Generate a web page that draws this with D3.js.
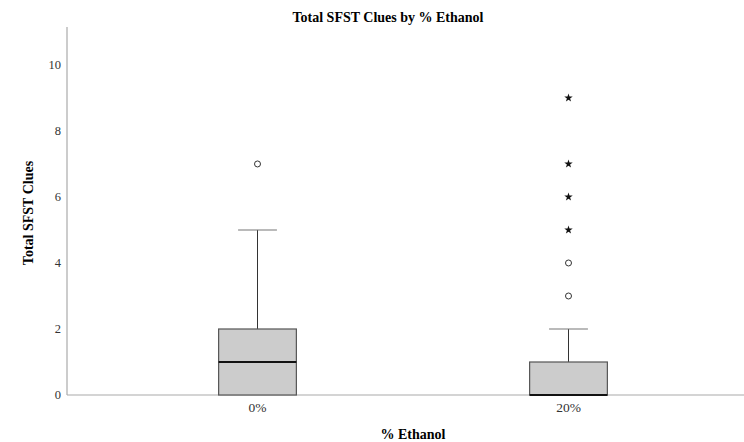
<!DOCTYPE html>
<html><head><meta charset="utf-8">
<script src="https://cdn.jsdelivr.net/npm/d3@7"></script>
<style>body{margin:0;background:#fff}svg{display:block}</style>
</head><body>
<svg id="c" width="744" height="442"></svg>
<script>
const categories = ["0%", "20%"];
const q1 = [0, 0];
const medians = [1, 0];
const q3 = [2, 1];
const whiskerLow = [0, 0];
const whiskerHigh = [5, 2];
const outliersCircle = [[7], [3, 4]];
const outliersStar = [[], [5, 6, 7, 9]];
const yTicks = [0, 2, 4, 6, 8, 10];
const title = "Total SFST Clues by % Ethanol";
const xTitle = "% Ethanol";
const yTitle = "Total SFST Clues";

const svg = d3.select("#c");
const font = "'Liberation Serif','Times New Roman',serif";
const x = d3.scaleBand().domain(categories).range([102, 724]).padding(0);
const y = d3.scaleLinear().domain([0, 11.15]).range([395, 27]);
const bw = x.bandwidth() * 0.25;
const capW = x.bandwidth() * 0.125;

// axes lines
svg.append("line").attr("x1", 67).attr("x2", 67).attr("y1", y(11.15)).attr("y2", y(0))
  .attr("stroke", "#aaa").attr("stroke-width", 1.2);
svg.append("line").attr("x1", 67).attr("x2", 744).attr("y1", y(0)).attr("y2", y(0))
  .attr("stroke", "#aaa").attr("stroke-width", 1.2);

// y tick labels
svg.append("g").selectAll("text").data(yTicks).join("text")
  .attr("x", 61).attr("y", d => y(d)).attr("dy", "0.35em")
  .attr("text-anchor", "end").attr("font-family", font).attr("font-size", 12.5)
  .attr("fill", "#333").text(d => d);

// x tick labels
svg.append("g").selectAll("text").data(categories).join("text")
  .attr("x", d => x(d) + x.bandwidth() / 2).attr("y", 412)
  .attr("text-anchor", "middle").attr("font-family", font).attr("font-size", 13.5)
  .attr("fill", "#333").text(d => d);

const g = svg.append("g");
categories.forEach((c, i) => {
  const cx = x(c) + x.bandwidth() / 2;
  g.append("line").attr("x1", cx).attr("x2", cx).attr("y1", y(q3[i])).attr("y2", y(whiskerHigh[i]))
    .attr("stroke", "#333").attr("stroke-width", 1);
  g.append("line").attr("x1", cx - capW / 2).attr("x2", cx + capW / 2)
    .attr("y1", y(whiskerHigh[i])).attr("y2", y(whiskerHigh[i]))
    .attr("stroke", "#777").attr("stroke-width", 1.2);
  if (whiskerLow[i] < q1[i]) {
    g.append("line").attr("x1", cx).attr("x2", cx).attr("y1", y(q1[i])).attr("y2", y(whiskerLow[i]))
      .attr("stroke", "#333");
  }
  g.append("rect").attr("x", cx - bw / 2).attr("width", bw)
    .attr("y", y(q3[i])).attr("height", y(q1[i]) - y(q3[i]))
    .attr("fill", "#cccccc").attr("stroke", "#555").attr("stroke-width", 1.2);
  g.append("line").attr("x1", cx - bw / 2).attr("x2", cx + bw / 2)
    .attr("y1", y(medians[i])).attr("y2", y(medians[i]))
    .attr("stroke", "#111").attr("stroke-width", 2);
  outliersCircle[i].forEach(v => {
    g.append("circle").attr("cx", cx).attr("cy", y(v)).attr("r", 3)
      .attr("fill", "#fff").attr("stroke", "#333").attr("stroke-width", 1);
  });
  outliersStar[i].forEach(v => {
    g.append("path").attr("d", d3.symbol(d3.symbolStar, 22)())
      .attr("transform", `translate(${cx},${y(v)})`).attr("fill", "#111");
  });
});

// titles
svg.append("text").attr("x", 388).attr("y", 22).attr("text-anchor", "middle")
  .attr("font-family", font).attr("font-size", 14).attr("font-weight", "bold").text(title);
svg.append("text").attr("x", 413).attr("y", 439).attr("text-anchor", "middle")
  .attr("font-family", font).attr("font-size", 14).attr("font-weight", "bold").text(xTitle);
svg.append("text").attr("transform", "translate(33,213) rotate(-90)").attr("text-anchor", "middle")
  .attr("font-family", font).attr("font-size", 14).attr("font-weight", "bold").text(yTitle);
</script>
</body></html>
